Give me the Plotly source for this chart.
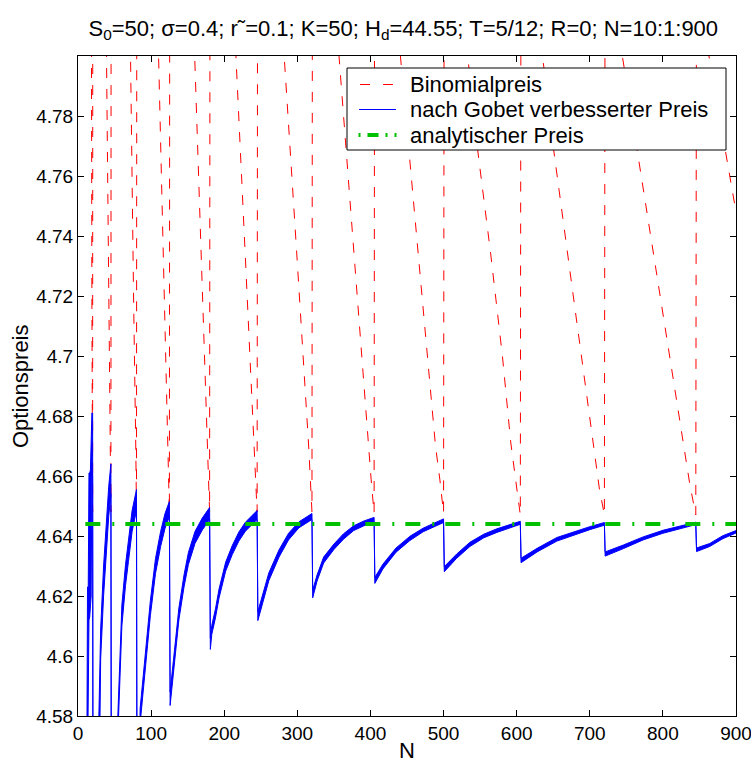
import plotly.graph_objects as go

# ---------------- data ----------------
# Binomial price (red dashed); values above 4.80 are off-chart estimates
binom_N = [10, 17, 18, 19, 20,
           21, 39, 42, 44, 45,
           46, 71, 76, 79, 80,
           81, 110, 116.5, 123, 125,
           126, 159, 168, 176.5, 180,
           181, 216, 228.5, 240.5, 245,
           246, 282, 299, 315.5, 320,
           321, 357, 377, 396.5, 401, 405,
           406, 441, 453, 465, 478, 489, 495, 500,
           501, 533, 547, 564.5, 580.5, 592, 599, 605,
           606, 635, 651, 678, 705, 713, 720,
           721, 744.5, 765, 796, 828, 837, 845,
           846, 863, 885.5, 897, 900]
binom_val = [6.0, 4.90, 4.80, 4.72, 4.648,
             5.6, 4.80, 4.72, 4.67, 4.648,
             5.3, 4.80, 4.72, 4.67, 4.648,
             5.1, 4.80, 4.735, 4.670, 4.648,
             5.05, 4.80, 4.735, 4.670, 4.648,
             5.0, 4.80, 4.735, 4.670, 4.648,
             4.95, 4.80, 4.735, 4.670, 4.648,
             4.95, 4.80, 4.735, 4.670, 4.6587, 4.6475,
             4.92, 4.80, 4.768, 4.734, 4.700, 4.670, 4.6587, 4.6476,
             4.88, 4.80, 4.768, 4.734, 4.700, 4.671, 4.658, 4.647,
             4.86, 4.80, 4.768, 4.719, 4.670, 4.656, 4.647,
             4.85, 4.80, 4.768, 4.720, 4.670, 4.657, 4.647,
             4.84, 4.80, 4.768, 4.7526, 4.748]

# Gobet-corrected price (blue): upper and lower edge of the odd/even band
gobet_N = [10, 12, 13, 14, 15, 16, 17, 18, 19, 20,
           21, 26, 29, 31, 35, 39, 42, 45,
           46, 50, 55, 60, 65, 69, 74, 80,
           81, 85, 92, 99, 106, 113, 119, 125,
           126, 129, 133, 138, 145, 151, 160, 170, 180,
           181, 183, 188, 193, 202, 211, 220, 229, 238, 245,
           246, 252, 261, 275, 288, 302, 316, 320,
           321, 327, 336, 350, 363, 377, 391, 405,
           406, 417, 435, 454, 472, 491, 500,
           501, 518, 536, 555, 573, 591, 605,
           606, 628, 655, 682, 700, 720,
           721, 746, 773, 800, 828, 845,
           846, 864, 882, 900]
gobet_hi = [4.50, 4.56, 4.623, 4.623, 4.661, 4.661, 4.662, 4.680, 4.681, 4.681,
            4.44, 4.55, 4.585, 4.609, 4.630, 4.6455, 4.6565, 4.664,
            4.48, 4.55, 4.5835, 4.617, 4.6305, 4.6385, 4.6485, 4.6555,
            4.52, 4.5825, 4.601, 4.6185, 4.6325, 4.6415, 4.6475, 4.6515,
            4.588, 4.595, 4.605, 4.616, 4.627, 4.6345, 4.6415, 4.646, 4.6495,
            4.606, 4.6102, 4.6157, 4.6224, 4.6313, 4.6368, 4.6413, 4.6446, 4.6468, 4.6485,
            4.6148, 4.620, 4.6277, 4.6354, 4.6409, 4.6447, 4.6469, 4.6475,
            4.622, 4.627, 4.633, 4.6373, 4.6407, 4.6434, 4.6450, 4.6462,
            4.6262, 4.6306, 4.636, 4.6399, 4.6426, 4.6446, 4.6457,
            4.6298, 4.634, 4.6379, 4.6406, 4.6424, 4.6438, 4.6449,
            4.6326, 4.6359, 4.6395, 4.6417, 4.6431, 4.6445,
            4.6347, 4.637, 4.6397, 4.6419, 4.6435, 4.6446,
            4.6360, 4.6375, 4.6401, 4.6418]
gobet_lo = [4.40, 4.46, 4.560, 4.612, 4.612, 4.613, 4.620, 4.620, 4.660, 4.660,
            4.38, 4.50, 4.575, 4.599, 4.620, 4.6355, 4.6465, 4.654,
            4.42, 4.51, 4.5765, 4.610, 4.6235, 4.6315, 4.6415, 4.6485,
            4.48, 4.5775, 4.596, 4.6135, 4.6275, 4.6365, 4.6425, 4.6465,
            4.5835, 4.591, 4.601, 4.612, 4.623, 4.6305, 4.6375, 4.642, 4.6455,
            4.6022, 4.6072, 4.6127, 4.6194, 4.6283, 4.6338, 4.6383, 4.6416, 4.6438, 4.6455,
            4.6118, 4.6174, 4.6251, 4.633, 4.6387, 4.6427, 4.6449, 4.6455,
            4.6194, 4.625, 4.631, 4.6355, 4.6389, 4.6418, 4.6434, 4.6448,
            4.6242, 4.629, 4.6346, 4.6385, 4.6414, 4.6434, 4.6445,
            4.6281, 4.6326, 4.6365, 4.6394, 4.6412, 4.6428, 4.6439,
            4.6311, 4.6347, 4.6383, 4.6407, 4.6421, 4.6436,
            4.6333, 4.6358, 4.6387, 4.6409, 4.6427, 4.6438,
            4.6348, 4.6365, 4.6391, 4.6410]

# Analytical price (green dash-dot)
analytic_N = [10, 900]
analytic_val = [4.644, 4.644]

x_ticks = [0, 100, 200, 300, 400, 500, 600, 700, 800, 900]
y_ticks = [4.58, 4.60, 4.62, 4.64, 4.66, 4.68, 4.70, 4.72, 4.74, 4.76, 4.78]
y_tick_text = ["4.58", "4.6", "4.62", "4.64", "4.66", "4.68", "4.7",
               "4.72", "4.74", "4.76", "4.78"]

legend_names = ["Binomialpreis", "nach Gobet verbesserter Preis",
                "analytischer Preis"]

title_text = ("S<sub>0</sub>=50; σ=0.4; r˜=0.1; K=50; H<sub>d</sub>=44.55; "
              "T=5/12; R=0; N=10:1:900")

FONT = "Liberation Sans, Arial, Helvetica, sans-serif"
RED, BLUE, GREEN = "#ff0000", "#0000ff", "#00c000"
RED_DASH = "10px,11px"
GREEN_DASH = "15px,12px,2px,11px"

W, H = 751, 764
ML, MR, MT, MB = 78, 15, 56, 48
PW, PH = W - ML - MR, H - MT - MB


def px(xp):
    return (xp - ML) / PW


def py(yp):
    return (H - MB - yp) / PH


fig = go.Figure()

fig.add_trace(go.Scatter(
    x=binom_N, y=binom_val, mode="lines", name=legend_names[0],
    line=dict(color=RED, width=1, dash=RED_DASH), showlegend=False,
))
fig.add_trace(go.Scatter(
    x=gobet_N, y=gobet_hi, mode="lines", showlegend=False,
    line=dict(color=BLUE, width=1), hoverinfo="skip",
))
fig.add_trace(go.Scatter(
    x=gobet_N, y=gobet_lo, mode="lines", showlegend=False, name=legend_names[1],
    line=dict(color=BLUE, width=1), fill="tonexty",
    fillcolor=BLUE, hoverinfo="skip",
))
fig.add_trace(go.Scatter(
    x=analytic_N, y=analytic_val, mode="lines", name=legend_names[2],
    line=dict(color=GREEN, width=4, dash=GREEN_DASH), showlegend=False,
))

axis_common = dict(
    showline=True, linecolor="black", linewidth=1, mirror="ticks",
    ticks="inside", ticklen=6, tickcolor="black", tickwidth=1,
    showgrid=False, zeroline=False, automargin=False,
    ticklabeloverflow="allow",
    tickfont=dict(family=FONT, size=19, color="black"),
)
fig.update_xaxes(range=[0, 900], tickvals=x_ticks,
                 ticktext=[str(v) for v in x_ticks], **axis_common)
fig.update_yaxes(range=[4.58, 4.80], tickvals=y_ticks, ticktext=y_tick_text,
                 **axis_common)

# ----- hand-built legend box (MATLAB style) -----
shapes = [
    dict(type="rect", xref="paper", yref="paper",
         x0=px(347), x1=px(726), y0=py(150), y1=py(68),
         line=dict(color="black", width=1), fillcolor="white", layer="above"),
    dict(type="line", xref="paper", yref="paper",
         x0=px(360), x1=px(394), y0=py(84.5), y1=py(84.5),
         line=dict(color=RED, width=1, dash="10px,13px"), layer="above"),
    dict(type="line", xref="paper", yref="paper",
         x0=px(359), x1=px(396), y0=py(109.5), y1=py(109.5),
         line=dict(color=BLUE, width=1), layer="above"),
    dict(type="line", xref="paper", yref="paper",
         x0=px(358.5), x1=px(396.5), y0=py(135), y1=py(135),
         line=dict(color=GREEN, width=4, dash="2px,7px,11px,7px"), layer="above"),
]
legend_y = [84.5, 109.5, 135]
annotations = [
    dict(text=name, x=px(408), y=py(yy), xref="paper", yref="paper",
         xanchor="left", yanchor="middle", showarrow=False,
         font=dict(family=FONT, size=22, color="black"))
    for name, yy in zip(legend_names, legend_y)
]
annotations += [
    dict(text="N", x=0.5, y=py(750), xref="paper", yref="paper",
         xanchor="center", yanchor="middle", showarrow=False,
         font=dict(family=FONT, size=22, color="black")),
    dict(text="Optionspreis", x=px(20), y=0.5, xref="paper", yref="paper",
         xanchor="center", yanchor="middle", showarrow=False, textangle=-90,
         font=dict(family=FONT, size=22, color="black")),
]

fig.update_layout(
    width=W, height=H,
    margin=dict(l=ML, r=MR, t=MT, b=MB, pad=0, autoexpand=False),
    paper_bgcolor="white", plot_bgcolor="white",
    font=dict(family=FONT, size=19, color="black"),
    title=dict(text=title_text, x=0.537, xanchor="center",
               y=1 - 28 / H, yanchor="middle",
               font=dict(family=FONT, size=22, color="black")),
    showlegend=False,
    shapes=shapes,
    annotations=annotations,
)

fig.write_html("out.html",
               config={"displayModeBar": False},
               post_script="document.body.style.margin='0px';")
